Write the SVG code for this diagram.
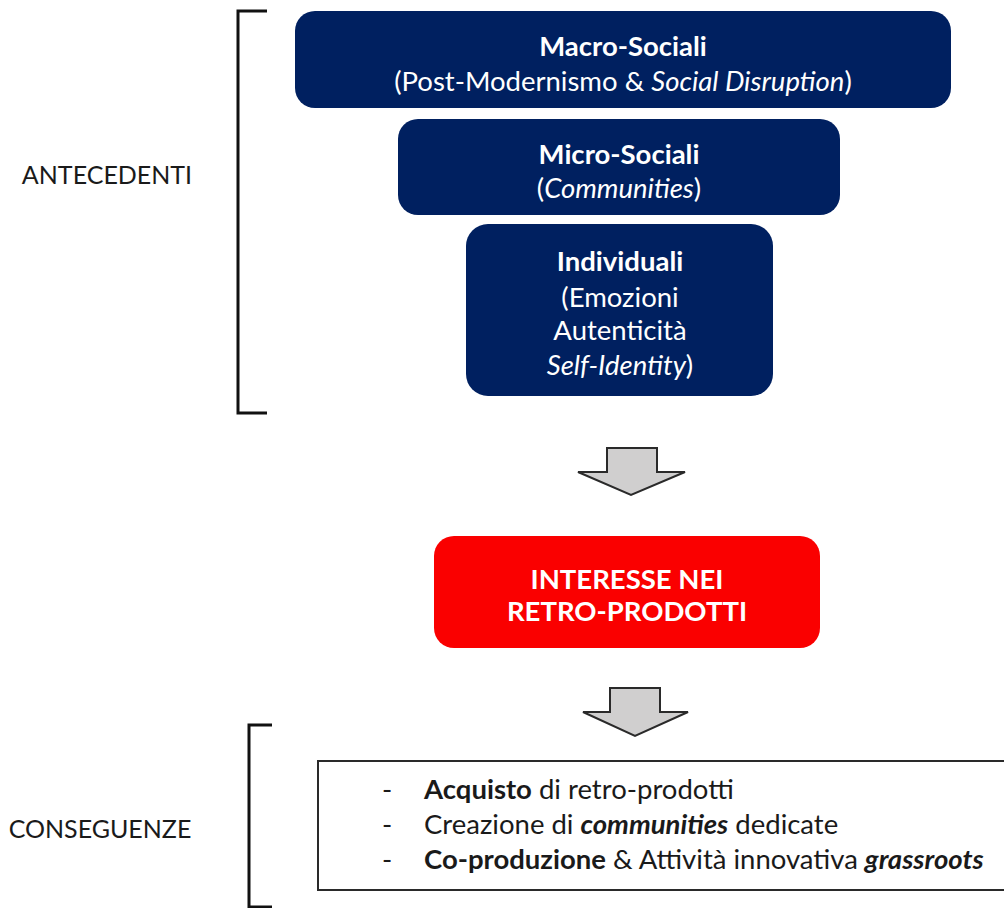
<svg xmlns="http://www.w3.org/2000/svg" width="1004" height="908" viewBox="0 0 1004 908">
  <style>
    text { font-family: Lato, "Open Sans", "Liberation Sans", sans-serif; }
    .navy { fill: #002060; }
    .wt { fill: #ffffff; font-size: 27.5px; text-anchor: middle; }
    .b { font-weight: bold; }
    .i { font-style: italic; }
    .lbl { fill: #1a1a1a; font-size: 25px; }
    .bracket { fill: none; stroke: #111; stroke-width: 3; }
    .arrow { fill: #d0cfcf; stroke: #2a2a2a; stroke-width: 2; stroke-linejoin: miter; }
    .list { fill: #1a1a1a; font-size: 27.5px; }
  </style>

  <!-- side labels and brackets -->
  <g id="antecedenti">
    <path class="bracket" d="M267,11 H238 V413 H267"/>
    <text class="lbl" x="107" y="184" text-anchor="middle">ANTECEDENTI</text>
  </g>
  <g id="conseguenze">
    <path class="bracket" d="M272,725 H249 V907 H272"/>
    <text class="lbl" x="100" y="838" text-anchor="middle">CONSEGUENZE</text>
  </g>

  <!-- antecedent levels -->
  <g id="macro">
    <rect class="navy" x="295" y="11" width="656" height="97" rx="20"/>
    <text class="wt" x="623" y="56"><tspan class="b">Macro-Sociali</tspan></text>
    <text class="wt" x="623" y="91">(Post-Modernismo &amp; <tspan class="i">Social Disruption</tspan>)</text>
  </g>
  <g id="micro">
    <rect class="navy" x="398" y="119" width="442" height="96" rx="20"/>
    <text class="wt" x="619" y="164"><tspan class="b">Micro-Sociali</tspan></text>
    <text class="wt" x="619" y="198">(<tspan class="i">Communities</tspan>)</text>
  </g>
  <g id="individuali">
    <rect class="navy" x="466" y="224" width="307" height="172" rx="22"/>
    <text class="wt" x="620" y="271"><tspan class="b">Individuali</tspan></text>
    <text class="wt" x="620" y="307">(Emozioni</text>
    <text class="wt" x="620" y="340">Autenticità</text>
    <text class="wt" x="620" y="375"><tspan class="i">Self-Identity</tspan>)</text>
  </g>

  <!-- central outcome -->
  <g id="interesse">
    <rect x="434" y="536" width="386" height="112" rx="20" fill="#fa0000"/>
    <text class="wt b" x="627" y="589" font-size="21">INTERESSE NEI</text>
    <text class="wt b" x="627" y="621" font-size="21">RETRO-PRODOTTI</text>
  </g>

  <!-- consequences list -->
  <g id="lista">
    <rect x="318" y="761" width="720" height="129" fill="#ffffff" stroke="#2a2a2a" stroke-width="2"/>
    <text class="list" x="382" y="799">-</text>
    <text class="list" x="382" y="834">-</text>
    <text class="list" x="382" y="869">-</text>
    <text class="list" x="424" y="799"><tspan class="b">Acquisto</tspan> di retro-prodotti</text>
    <text class="list" x="424" y="834">Creazione di <tspan class="b i">communities</tspan> dedicate</text>
    <text class="list" x="424" y="869"><tspan class="b">Co-produzione</tspan> &amp; Attività innovativa <tspan class="b i">grassroots</tspan></text>
  </g>

  <!-- block arrows -->
  <g id="connectors">
    <path class="arrow" d="M607,448 H657 V472 H685 L631,495 L578,472 H607 Z"/>
    <path class="arrow" d="M610,688 H660 V712 H688 L635,736 L583,712 H610 Z"/>
  </g>
</svg>
